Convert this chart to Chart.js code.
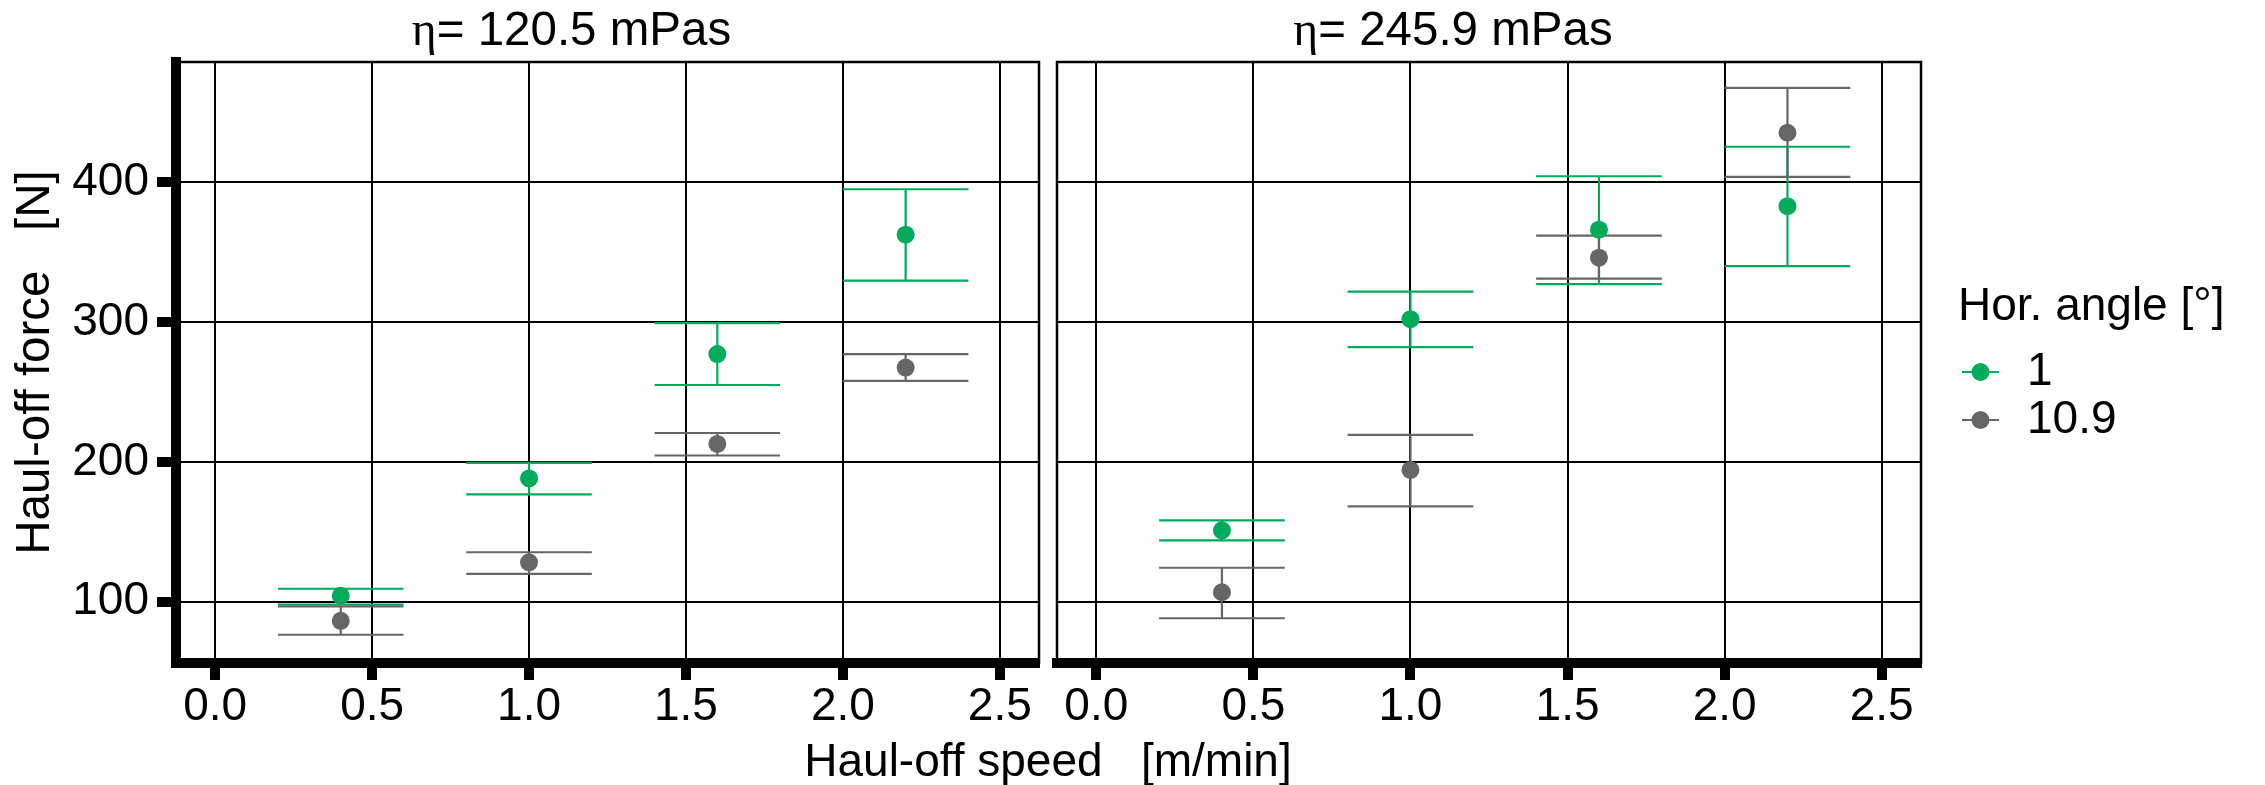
<!DOCTYPE html>
<html>
<head>
<meta charset="utf-8">
<script src="https://cdn.jsdelivr.net/npm/chart.js@4.4.1/dist/chart.umd.min.js"></script>
<style>
  html, body { margin: 0; padding: 0; background: #fff; }
  #wrap { position: relative; width: 2265px; height: 785px; overflow: hidden;
          font-family: "Liberation Sans", Arial, sans-serif; }
  #c1 { position: absolute; left: 0; top: 0; }
  #c2 { position: absolute; left: 1048px; top: 0; }
  #xtitle { position: absolute; left: 548px; width: 1000px; top: 737px; text-align: center;
            font-size: 46px; line-height: 46px; white-space: pre; color: #000; }
</style>
</head>
<body>
<div id="wrap">
  <canvas id="c1" width="1048" height="785"></canvas>
  <canvas id="c2" width="1217" height="785"></canvas>
  <div id="xtitle"></div>
</div>
<script>
// ---------- data ----------
const SPEEDS   = [0.4, 1.0, 1.6, 2.2];
const X_TICKS  = [0, 0.5, 1, 1.5, 2, 2.5];
const Y_TICKS  = [100, 200, 300, 400];
const ANGLES   = ['1', '10.9'];
const PANEL_TITLES = ['120.5 mPas', '245.9 mPas'];

// eta = 120.5 mPas
const LOW_A1_MEAN   = [104.3, 188.2, 277.1, 362.5];
const LOW_A1_LO     = [97.9, 176.8, 255.0, 329.6];
const LOW_A1_HI     = [109.3, 199.3, 299.3, 395.0];
const LOW_A109_MEAN = [86.4, 128.2, 212.9, 267.5];
const LOW_A109_LO   = [76.4, 120.0, 204.6, 257.9];
const LOW_A109_HI   = [96.6, 135.4, 220.7, 277.1];

// eta = 245.9 mPas
const HIGH_A1_MEAN   = [151.1, 302.1, 366.1, 382.9];
const HIGH_A1_LO     = [143.9, 282.1, 327.1, 340.0];
const HIGH_A1_HI     = [158.2, 321.8, 404.3, 425.4];
const HIGH_A109_MEAN = [106.8, 194.3, 346.1, 435.4];
const HIGH_A109_LO   = [88.2, 168.2, 331.1, 403.9];
const HIGH_A109_HI   = [124.3, 219.3, 361.8, 467.5];

// ---------- look ----------
const X_MIN = -0.125, X_MAX = 2.625;
const Y_MIN = 56.2, Y_MAX = 486;
const CAP_HALF = 0.2;
const GREEN = '#00ac5c', GREY = '#666666';
const FONT = '"Liberation Sans", Arial, sans-serif';
const FS = 46;

Chart.defaults.font.family = FONT;
Chart.defaults.color = '#000';

document.getElementById('xtitle').textContent = 'Haul-off speed   [m/min]';

const fixedTicks = values => scale => { scale.ticks = values.map(v => ({ value: v })); };

// ---------- plugins ----------
const errorBars = {
  id: 'errorBars',
  beforeDatasetsDraw(chart) {
    const { ctx, scales: { x, y } } = chart;
    ctx.save();
    ctx.lineWidth = 2.2;
    chart.data.datasets.forEach(ds => {
      ctx.strokeStyle = ds.backgroundColor;
      ds.data.forEach((p, i) => {
        const px = x.getPixelForValue(p.x);
        const xl = x.getPixelForValue(p.x - CAP_HALF), xr = x.getPixelForValue(p.x + CAP_HALF);
        const yl = y.getPixelForValue(ds.errLo[i]), yh = y.getPixelForValue(ds.errHi[i]);
        ctx.beginPath();
        ctx.moveTo(px, yl); ctx.lineTo(px, yh);
        ctx.moveTo(xl, yl); ctx.lineTo(xr, yl);
        ctx.moveTo(xl, yh); ctx.lineTo(xr, yh);
        ctx.stroke();
      });
    });
    ctx.restore();
  }
};

const panelFrame = {
  id: 'panelFrame',
  beforeDatasetsDraw(chart) {
    const { ctx, chartArea: a } = chart;
    ctx.save();
    ctx.strokeStyle = '#000';
    ctx.lineWidth = 2.5;
    ctx.strokeRect(a.left, a.top, a.right - a.left, a.bottom - a.top);
    ctx.restore();
  }
};

const stripTitle = {
  id: 'stripTitle',
  afterDraw(chart, _args, opts) {
    if (!opts.text) return;
    const { ctx, chartArea: a } = chart;
    const size = opts.size || FS;
    const serif = `${size}px "Liberation Serif", "DejaVu Serif", serif`, sans = `${size}px ${FONT}`;
    const eta = 'η', rest = '= ' + opts.text;
    ctx.save();
    ctx.fillStyle = '#000';
    ctx.textBaseline = 'alphabetic';
    ctx.textAlign = 'left';
    ctx.font = serif; const wEta = ctx.measureText(eta).width;
    ctx.font = sans;  const wRest = ctx.measureText(rest).width;
    const x0 = (a.left + a.right) / 2 + (opts.shift || 0) - (wEta + wRest) / 2;
    const y = a.top - 17;
    ctx.font = serif; ctx.fillText(eta, x0, y);
    ctx.font = sans;  ctx.fillText(rest, x0 + wEta, y);
    ctx.restore();
  }
};

const angleLegend = {
  id: 'angleLegend',
  afterDraw(chart, _args, opts) {
    if (!opts.title) return;
    const { ctx, chartArea: a } = chart;
    const mid = (a.top + a.bottom) / 2;
    const x0 = a.right + 37;
    ctx.save();
    ctx.font = `${FS}px ${FONT}`;
    ctx.textBaseline = 'middle';
    ctx.textAlign = 'left';
    ctx.fillStyle = '#000';
    ctx.fillText(opts.title, x0, mid - 55.5);
    chart.data.datasets.forEach((ds, i) => {
      const y = mid + 9.5 + i * 48;
      ctx.strokeStyle = ds.backgroundColor;
      ctx.lineWidth = 2.2;
      ctx.beginPath(); ctx.moveTo(x0 + 4, y); ctx.lineTo(x0 + 41, y); ctx.stroke();
      ctx.fillStyle = ds.backgroundColor;
      ctx.beginPath(); ctx.arc(x0 + 22.5, y, 9, 0, Math.PI * 2); ctx.fill();
      ctx.fillStyle = '#000';
      ctx.fillText(ds.label, x0 + 69, y);
    });
    ctx.restore();
  }
};

// ---------- panels ----------
function buildPanel(canvasId, series, cfg) {
  const datasets = series.map(s => ({
    label: s.label,
    data: SPEEDS.map((v, i) => ({ x: v, y: s.mean[i] })),
    errLo: s.lo,
    errHi: s.hi,
    backgroundColor: s.color,
    borderWidth: 0,
    pointRadius: 9,
    pointHoverRadius: 9,
    order: s.order
  }));

  const yAxis = cfg.first ? {
    afterFit: s => { s.width = 176; },
    ticks: { font: { size: FS, lineHeight: 1.2 }, color: '#000', padding: 8 },
    grid: { color: '#000', lineWidth: 2, tickColor: '#000', tickWidth: 10, tickLength: 19 },
    border: { display: true, color: '#000', width: 10 },
    title: { display: true, text: 'Haul-off force   [N]', color: '#000',
             font: { size: 47.5, lineHeight: 1.2 }, padding: { top: 7, bottom: 0 } }
  } : {
    afterFit: s => { s.width = 8; },
    ticks: { display: false },
    grid: { color: '#000', lineWidth: 2, drawTicks: false },
    border: { display: false }
  };

  return new Chart(document.getElementById(canvasId), {
    type: 'scatter',
    data: { datasets },
    options: {
      responsive: false,
      animation: false,
      events: [],
      layout: { padding: { top: 62, right: cfg.padRight, left: 0, bottom: 0 } },
      plugins: {
        legend: { display: false },
        tooltip: { enabled: false },
        stripTitle: { text: cfg.title, shift: -36, size: 47.5 },
        angleLegend: { title: cfg.legendTitle || '' }
      },
      scales: {
        x: {
          type: 'linear', min: X_MIN, max: X_MAX,
          afterBuildTicks: fixedTicks(X_TICKS),
          afterFit: s => { s.height = 122; },
          ticks: { font: { size: FS, lineHeight: 1.2 }, color: '#000', padding: 0,
                   maxRotation: 0, autoSkip: false, callback: v => Number(v).toFixed(1) },
          grid: { color: '#000', lineWidth: 2, tickColor: '#000', tickWidth: 10, tickLength: 17 },
          border: { display: true, color: '#000', width: 10 }
        },
        y: Object.assign({ type: 'linear', min: Y_MIN, max: Y_MAX,
                           afterBuildTicks: fixedTicks(Y_TICKS) }, yAxis)
      }
    },
    plugins: [errorBars, panelFrame, stripTitle, angleLegend]
  });
}

buildPanel('c1', [
  { label: ANGLES[0], mean: LOW_A1_MEAN, lo: LOW_A1_LO, hi: LOW_A1_HI, color: GREEN, order: 1 },
  { label: ANGLES[1], mean: LOW_A109_MEAN, lo: LOW_A109_LO, hi: LOW_A109_HI, color: GREY, order: 0 }
], { first: true, padRight: 8, title: PANEL_TITLES[0] });

buildPanel('c2', [
  { label: ANGLES[0], mean: HIGH_A1_MEAN, lo: HIGH_A1_LO, hi: HIGH_A1_HI, color: GREEN, order: 1 },
  { label: ANGLES[1], mean: HIGH_A109_MEAN, lo: HIGH_A109_LO, hi: HIGH_A109_HI, color: GREY, order: 0 }
], { first: false, padRight: 344, title: PANEL_TITLES[1], legendTitle: 'Hor. angle [°]' });
</script>
</body>
</html>
